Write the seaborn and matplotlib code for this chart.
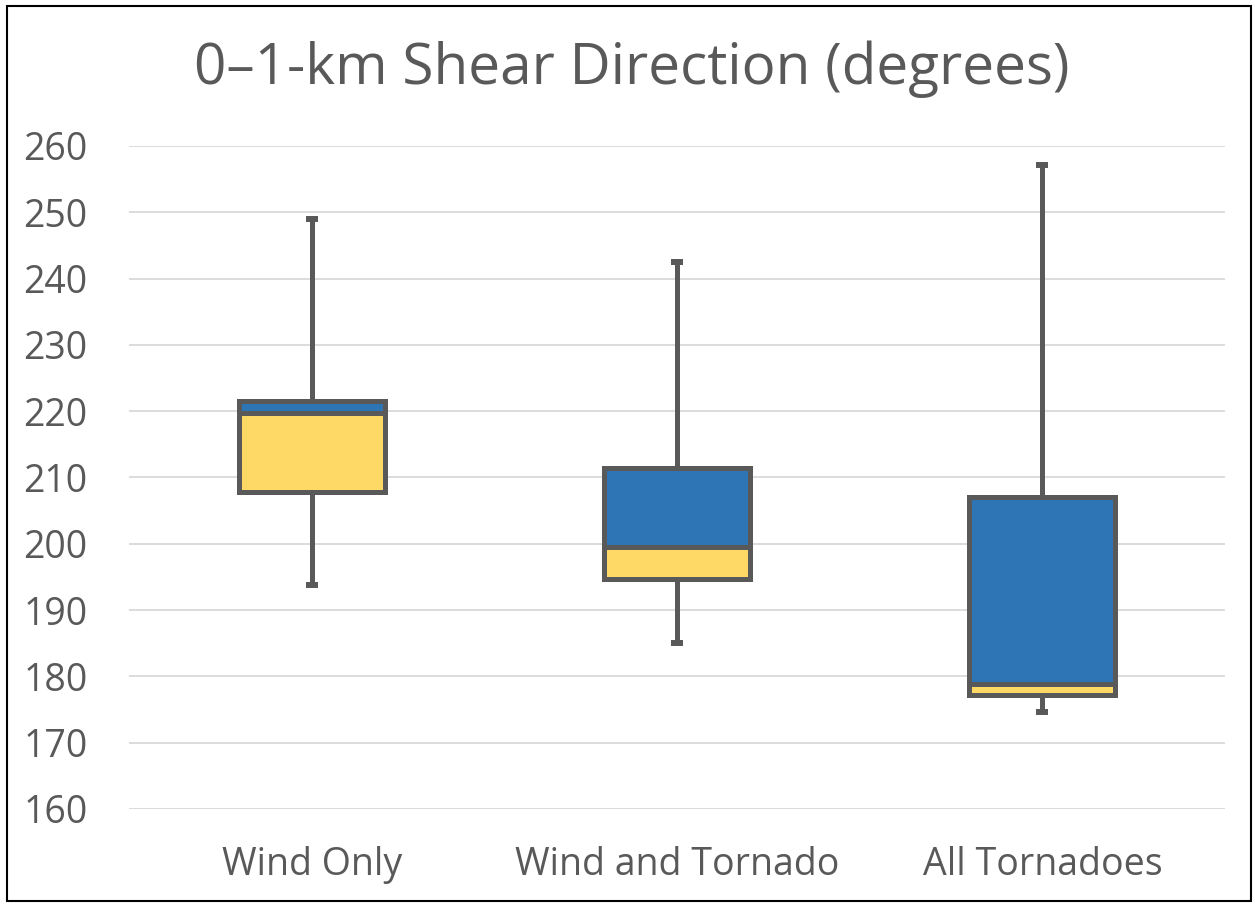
import numpy as np
import pandas as pd
import matplotlib
matplotlib.use("Agg")
import matplotlib.pyplot as plt
from matplotlib.patches import Rectangle
import seaborn as sns

# Box-and-whisker summary for 0-1-km shear direction (degrees)
groups = ["Wind Only", "Wind and Tornado", "All Tornadoes"]
whisker_low = [193.8, 185.0, 174.6]
quartile_1 = [207.8, 194.7, 177.2]
median = [219.8, 199.5, 178.9]
quartile_3 = [221.5, 211.5, 207.1]
whisker_high = [249.0, 242.5, 257.1]

title = "0\u20131-km Shear Direction (degrees)"
y_ticks = [160, 170, 180, 190, 200, 210, 220, 230, 240, 250, 260]

BLUE = "#2E75B6"
YELLOW = "#FFD966"
EDGE = "#595959"
GRID = "#D9D9D9"
TEXT = "#595959"

df = pd.DataFrame({
    "group": groups,
    "low": whisker_low,
    "q1": quartile_1,
    "med": median,
    "q3": quartile_3,
    "high": whisker_high,
})
df["lower_box"] = df["med"] - df["q1"]
df["upper_box"] = df["q3"] - df["med"]

sns.set_theme(style="white")
plt.rcParams["font.family"] = ["Open Sans", "DejaVu Sans"]

fig = plt.figure(figsize=(12.55, 9.05), dpi=100)
ax = fig.add_axes([0.1028, 0.1061, 0.8733, 0.7326])

box_lw = 3.6
box_width = 0.4

# whiskers with end caps, drawn beneath the boxes
pos = np.arange(len(groups))
zeros = np.zeros(len(pos))
_, top_caps, _ = ax.errorbar(pos, df["q3"], yerr=[zeros, df["high"] - df["q3"]],
                             fmt="none", ecolor=EDGE, elinewidth=box_lw, capsize=4.6,
                             capthick=4.3, zorder=0.8)
top_caps[0].set_visible(False)   # no cap where the whisker meets the box
_, bot_caps, _ = ax.errorbar(pos, df["q1"], yerr=[df["q1"] - df["low"], zeros],
                             fmt="none", ecolor=EDGE, elinewidth=box_lw, capsize=4.6,
                             capthick=4.3, zorder=0.8)
bot_caps[1].set_visible(False)

# stacked box halves: Q1->median (yellow), median->Q3 (blue)
sns.barplot(data=df, x="group", y="lower_box", bottom=df["q1"].values,
            color=YELLOW, saturation=1, edgecolor=EDGE, linewidth=box_lw,
            width=box_width, errorbar=None, ax=ax, zorder=1)
sns.barplot(data=df, x="group", y="upper_box", bottom=df["med"].values,
            color=BLUE, saturation=1, edgecolor=EDGE, linewidth=box_lw,
            width=box_width, errorbar=None, ax=ax, zorder=1)

ax.set_xlim(-0.5, len(groups) - 0.5)
ax.set_ylim(160, 260)
ax.set_yticks(y_ticks)
ax.set_axisbelow(True)
ax.yaxis.grid(True, color=GRID, linewidth=1.3)
ax.xaxis.grid(False)
for s in ax.spines.values():
    s.set_visible(False)

ax.set_xlabel("")
ax.set_ylabel("")
ax.tick_params(axis="both", length=0, labelsize=27, colors=TEXT)
ax.tick_params(axis="y", pad=30)
ax.tick_params(axis="x", pad=27)

fig.text(0.503, 0.907, title, ha="center", va="baseline", fontsize=40.8, color=TEXT)

# chart frame
fig.patches.append(Rectangle((0.0056, 0.004), 0.9912, 0.9895, transform=fig.transFigure,
                             fill=False, edgecolor="black", linewidth=1.5))

fig.savefig("out.png", dpi=100)
